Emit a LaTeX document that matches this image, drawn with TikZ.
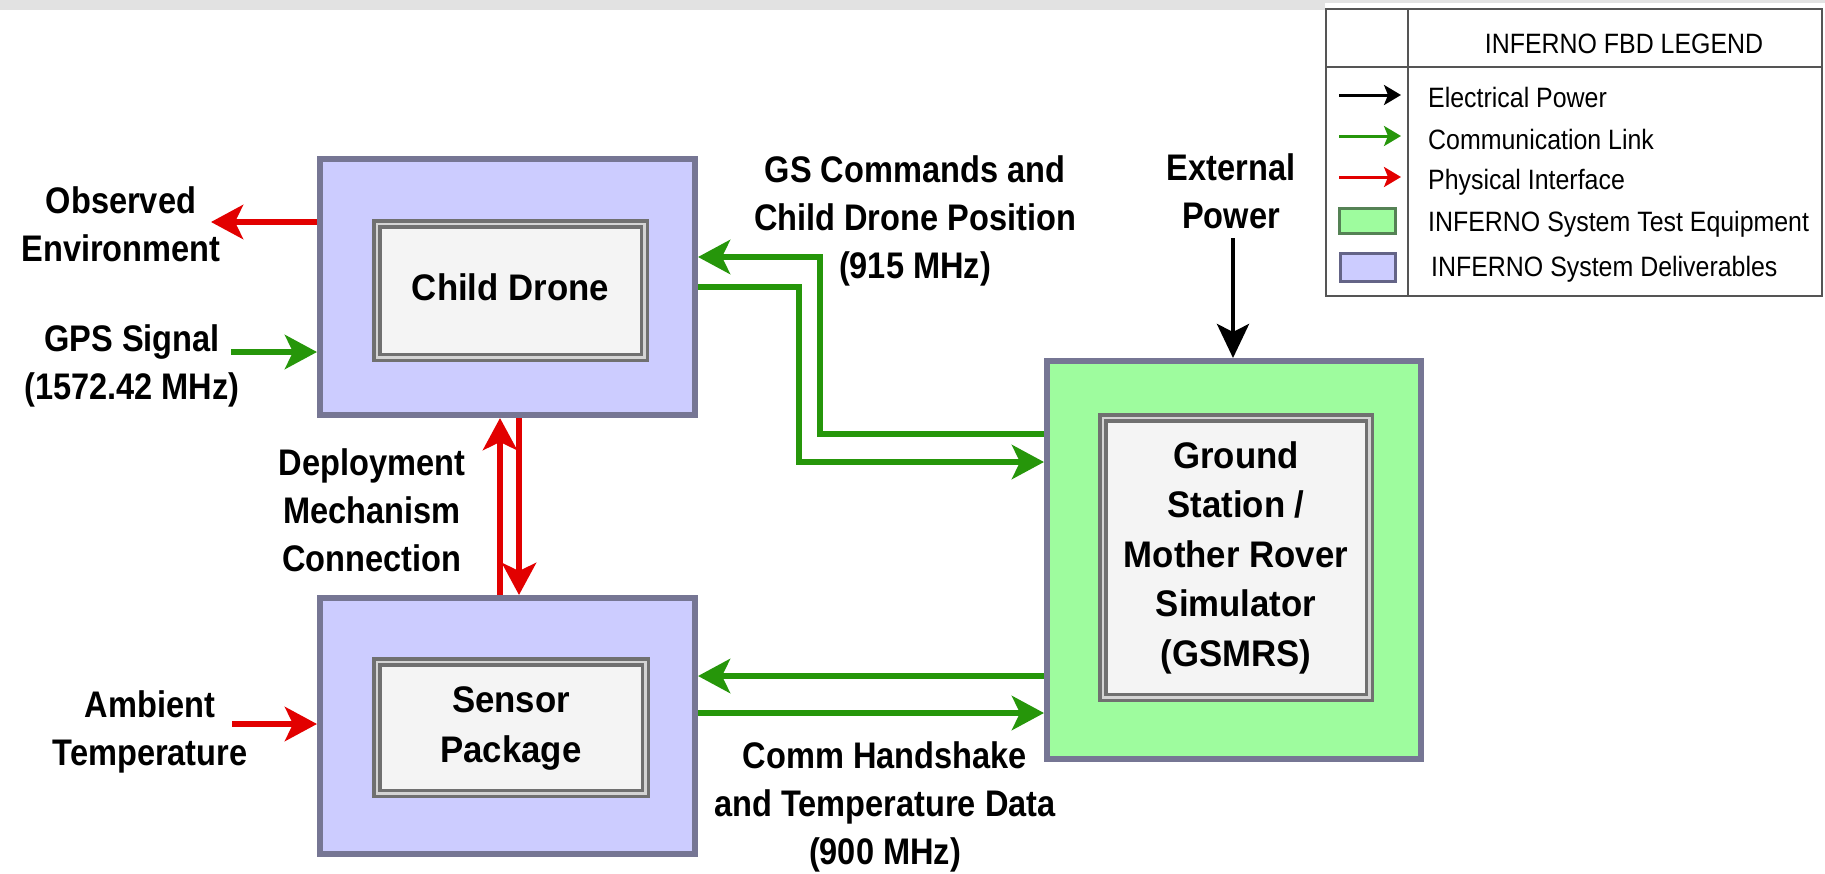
\documentclass[tikz,border=0pt]{standalone}
\usepackage{fontspec}
\setmainfont{Liberation Sans}
\newfontfamily\lblfont[FakeStretch=0.88]{Liberation Sans}
\newfontfamily\boxfont[FakeStretch=0.94]{Liberation Sans}
\newfontfamily\legfont[FakeStretch=0.89]{Liberation Sans}
\usetikzlibrary{arrows.meta}
\definecolor{delfill}{RGB}{204,204,255}
\definecolor{tefill}{RGB}{158,252,158}
\definecolor{boxline}{RGB}{118,118,148}
\definecolor{innerfill}{RGB}{244,244,244}
\definecolor{innerline}{RGB}{112,112,112}
\definecolor{commgreen}{RGB}{38,150,10}
\definecolor{physred}{RGB}{226,0,0}
\definecolor{bandgray}{RGB}{226,226,226}
\definecolor{legline}{RGB}{85,85,85}
\definecolor{swgreen}{RGB}{85,130,85}
\definecolor{swblue}{RGB}{100,100,135}
\tikzset{
  outerbox/.style={draw=boxline, line width=6pt, minimum width=375pt, minimum height=256pt, inner sep=0pt},
  delbox/.style={outerbox, fill=delfill},
  tebox/.style={outerbox, fill=tefill, minimum width=374pt, minimum height=398pt},
  innerbox/.style={draw=innerline, line width=3.5pt, double=innerline!30!white, double distance=2.5pt,
    fill=innerfill, align=center, inner sep=0pt, font=\boxfont\bfseries\fontsize{37}{50}\selectfont},
  lbl/.style={align=center, inner sep=0pt, anchor=north, font=\lblfont\bfseries\fontsize{37}{48}\selectfont},
  conn/.style={line width=6pt, -{Stealth[length=32pt, width=34pt, inset=8pt]}},
  garrow/.style={conn, color=commgreen},
  rarrow/.style={conn, color=physred},
  barrow/.style={line width=4.5pt, color=black, -{Stealth[length=34pt, width=32pt, inset=8pt]}},
  legarrow/.style={line width=3pt, -{Stealth[length=17pt, width=20pt, inset=4pt]}},
  legtext/.style={anchor=base west, inner sep=0pt, font=\legfont\fontsize{28}{32}\selectfont},
  swatch/.style={line width=3pt, inner sep=0pt},
}
\begin{document}
\begin{tikzpicture}[x=1pt, y=-1pt]
\useasboundingbox (0,0) rectangle (1825,873);
\fill[white] (0,0) rectangle (1825,873);
% top band
\fill[bandgray] (0,0) rectangle (1325,10);
\fill[bandgray] (1325,0) rectangle (1825,3);

% main blocks
\node[delbox] (child) at (507.5,287) {};
\node[innerbox, minimum width=267.5pt, minimum height=133.5pt] (childin) at (510.5,290.5) {\strut Child Drone};
\node[delbox] (sensor) at (507.5,726) {};
\node[innerbox, minimum width=268.5pt, minimum height=131.5pt] (sensorin) at (511,727.5) {\strut Sensor\\\strut Package};
\node[tebox] (gs) at (1234,560) {};
\node[innerbox, minimum width=266.5pt, minimum height=279.5pt, font=\boxfont\bfseries\fontsize{37}{49.5}\selectfont] (gsin) at (1236,557.5)
  {\strut Ground\\\strut Station /\\\strut Mother Rover\\\strut Simulator\\\strut (GSMRS)};

% labels
\node[lbl] (obs) at (121,179.4) {\strut Observed\\\strut Environment};
\node[lbl] (gps) at (132,317.4) {\strut GPS Signal\\\strut (1572.42 MHz)};
\node[lbl] (dep) at (372,441.4) {\strut Deployment\\\strut Mechanism\\\strut Connection};
\node[lbl] (amb) at (150,683.4) {\strut Ambient\\\strut Temperature};
\node[lbl] (gscmd) at (915,148.4) {\strut GS Commands and\\\strut Child Drone Position\\\strut (915 MHz)};
\node[lbl] (ext) at (1231,146.4) {\strut External\\\strut Power};
\node[lbl] (comm) at (885,734.4) {\strut Comm Handshake\\\strut and Temperature Data\\\strut (900 MHz)};

% connectors
\coordinate (obsTip) at (211,222);
\draw[rarrow] (child.west |- obsTip) -- (obsTip);
\coordinate (gpsStart) at (231,352);
\draw[garrow] (gpsStart) -- (gpsStart -| child.west);
\coordinate (ambStart) at (232,724);
\draw[rarrow] (ambStart) -- (ambStart -| sensor.west);
\coordinate (depL) at (500,500);
\coordinate (depR) at (519,500);
\draw[rarrow] (depL |- sensor.north) -- (depL |- child.south);
\draw[rarrow] (depR |- child.south) -- (depR |- sensor.north);
\coordinate (cA) at (820,434);
\coordinate (cB) at (820,257);
\draw[garrow] (gs.west |- cA) -- (cA) -- (cB) -- (cB -| child.east);
\coordinate (cC) at (799,287);
\coordinate (cD) at (799,462);
\draw[garrow] (child.east |- cC) -- (cC) -- (cD) -- (cD -| gs.west);
\coordinate (cE) at (900,676);
\draw[garrow] (gs.west |- cE) -- (cE -| sensor.east);
\coordinate (cF) at (900,713);
\draw[garrow] (sensor.east |- cF) -- (cF -| gs.west);
\coordinate (extStart) at (1233,238);
\draw[barrow] (extStart) -- (extStart |- gs.north);

% legend
\node[draw=legline, line width=2pt, minimum width=496pt, minimum height=287pt, inner sep=0pt, outer sep=0pt] (legend) at (1574,152.5) {};
\coordinate (ldiv) at (1408,100);
\coordinate (lhd) at (1500,67);
\draw[legline, line width=2pt] (ldiv |- legend.north) -- (ldiv |- legend.south);
\draw[legline, line width=2pt] (lhd -| legend.west) -- (lhd -| legend.east);
\node[anchor=base, inner sep=0pt, font=\legfont\fontsize{28}{32}\selectfont] (legtitle) at (1624,53) {INFERNO FBD LEGEND};
\node[legtext] (lt1) at (1428,107) {Electrical Power};
\node[legtext] (lt2) at (1428,149) {Communication Link};
\node[legtext] (lt3) at (1428,189) {Physical Interface};
\node[legtext] (lt4) at (1428,231) {INFERNO System Test Equipment};
\node[legtext] (lt5) at (1431,276) {INFERNO System Deliverables};
\coordinate (la1) at (1339,95);  \coordinate (lb1) at (1401,95);
\coordinate (la2) at (1339,136); \coordinate (lb2) at (1401,136);
\coordinate (la3) at (1339,177); \coordinate (lb3) at (1401,177);
\draw[legarrow, color=black] (la1) -- (lb1);
\draw[legarrow, color=commgreen] (la2) -- (lb2);
\draw[legarrow, color=physred] (la3) -- (lb3);
\node[swatch, draw=swgreen, fill=tefill, minimum width=56pt, minimum height=25pt] (sw1) at (1367.5,221) {};
\node[swatch, draw=swblue, fill=delfill, minimum width=55pt, minimum height=28pt] (sw2) at (1368,267.5) {};
\end{tikzpicture}
\end{document}
